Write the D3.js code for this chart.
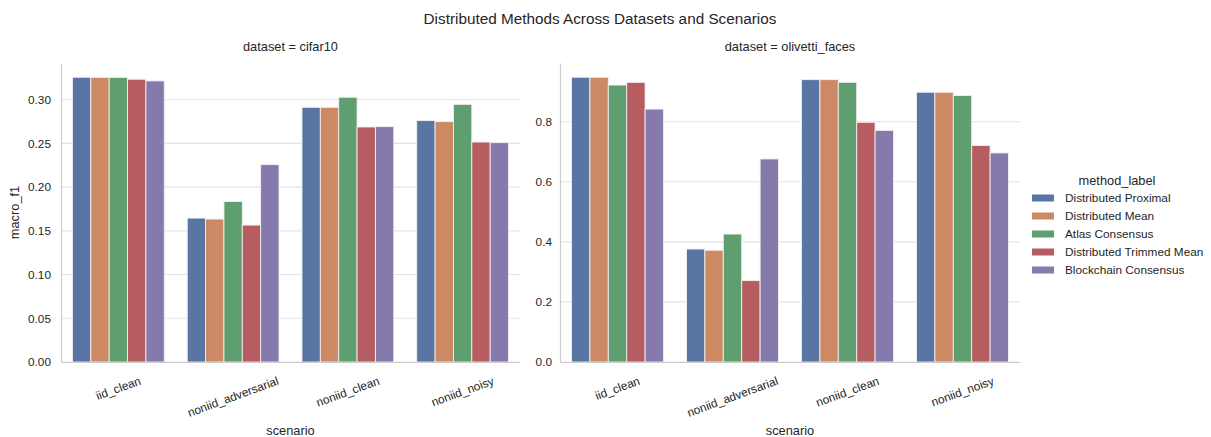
<!DOCTYPE html>
<html>
<head>
<meta charset="utf-8">
<script src="https://cdn.jsdelivr.net/npm/d3@7"></script>
<style>
  html, body { margin: 0; padding: 0; background: #ffffff; }
  svg { display: block; font-family: "Liberation Sans", Arial, sans-serif; }
</style>
</head>
<body>
<svg id="chart" width="1211" height="437"></svg>
<script>
// Scenario categories along the x axis
const scenarios = ["iid_clean", "noniid_adversarial", "noniid_clean", "noniid_noisy"];

// Methods (hue)
const methods = [
  "Distributed Proximal",
  "Distributed Mean",
  "Atlas Consensus",
  "Distributed Trimmed Mean",
  "Blockchain Consensus"
];

// macro_f1 per method, one value per scenario — cifar10
const cifarProximal   = [0.3257, 0.1646, 0.2913, 0.2761];
const cifarMean       = [0.3256, 0.1635, 0.2913, 0.2749];
const cifarAtlas      = [0.3255, 0.1836, 0.3028, 0.2947];
const cifarTrimmed    = [0.3234, 0.1566, 0.2688, 0.2516];
const cifarBlockchain = [0.3215, 0.2257, 0.2692, 0.2509];

// macro_f1 per method, one value per scenario — olivetti_faces
const olivProximal   = [0.948, 0.376, 0.940, 0.898];
const olivMean       = [0.948, 0.372, 0.940, 0.898];
const olivAtlas      = [0.922, 0.426, 0.931, 0.887];
const olivTrimmed    = [0.931, 0.271, 0.798, 0.721];
const olivBlockchain = [0.842, 0.676, 0.771, 0.696];

// y tick values for each facet
const cifarTicks = [0.00, 0.05, 0.10, 0.15, 0.20, 0.25, 0.30];
const olivTicks  = [0.0, 0.2, 0.4, 0.6, 0.8];

// muted "deep" palette
const colors = ["#5875a4", "#cc8963", "#5f9e6e", "#b55d60", "#857aab"];

const facets = [
  { title: "dataset = cifar10", series: [cifarProximal, cifarMean, cifarAtlas, cifarTrimmed, cifarBlockchain],
    ticks: cifarTicks, fmt: d3.format(".2f"), x0: 61, x1: 520, tickPad: 10 },
  { title: "dataset = olivetti_faces", series: [olivProximal, olivMean, olivAtlas, olivTrimmed, olivBlockchain],
    ticks: olivTicks, fmt: d3.format(".1f"), x0: 560, x1: 1020, tickPad: 8 }
];

const plotTop = 63, plotBottom = 362;
const textColor = "#262626";
const svg = d3.select("#chart");

// figure title
svg.append("text")
  .attr("x", 600).attr("y", 24)
  .attr("text-anchor", "middle")
  .attr("font-size", 15.3)
  .attr("fill", textColor)
  .text("Distributed Methods Across Datasets and Scenarios");

facets.forEach((f, fi) => {
  const rows = [];
  scenarios.forEach((s, si) => {
    methods.forEach((m, mi) => rows.push({ scenario: s, method: m, mi, value: f.series[mi][si] }));
  });
  const maxVal = d3.max(rows, d => d.value);

  const x = d3.scaleBand().domain(scenarios).range([f.x0, f.x1]).paddingInner(0).paddingOuter(0);
  const bw = x.bandwidth();
  const xm = d3.scaleBand().domain(methods).range([bw * 0.1, bw * 0.9]);
  const y = d3.scaleLinear().domain([0, maxVal * 1.05]).range([plotBottom, plotTop]);

  const g = svg.append("g");

  // horizontal grid
  g.append("g").selectAll("line").data(f.ticks).join("line")
    .attr("x1", f.x0).attr("x2", f.x1)
    .attr("y1", d => y(d)).attr("y2", d => y(d))
    .attr("stroke", "#e3e3e3").attr("stroke-width", 1.1);

  // bars
  g.append("g").selectAll("rect").data(rows).join("rect")
    .attr("x", d => x(d.scenario) + xm(d.method))
    .attr("width", xm.bandwidth())
    .attr("y", d => y(d.value))
    .attr("height", d => y(0) - y(d.value))
    .attr("fill", d => colors[d.mi])
    .attr("stroke", "#f4eef0").attr("stroke-width", 0.9);

  // y axis
  const yAxis = d3.axisLeft(y).tickValues(f.ticks).tickFormat(f.fmt).tickSize(0).tickPadding(f.tickPad);
  const ya = g.append("g").attr("transform", `translate(${f.x0},0)`).call(yAxis);
  ya.select(".domain").attr("stroke", "#cccccc").attr("stroke-width", 1.2);
  ya.selectAll("text").attr("font-size", 11.8).attr("fill", textColor)
    .attr("font-family", "Liberation Sans, Arial, sans-serif");

  // x axis
  const xAxis = d3.axisBottom(x).tickSize(0).tickFormat("");
  const xa = g.append("g").attr("transform", `translate(0,${plotBottom})`).call(xAxis);
  xa.select(".domain").attr("stroke", "#cccccc").attr("stroke-width", 1.2);

  // rotated scenario labels, bounding box centred under each band
  const labelTop = plotBottom + 12;
  const fs = 11.8;
  const ang = 20 * Math.PI / 180;
  scenarios.forEach(s => {
    const t = g.append("text")
      .attr("font-size", fs).attr("fill", textColor)
      .attr("text-anchor", "middle").attr("dominant-baseline", "central")
      .text(s);
    const L = t.node().getComputedTextLength();
    const h = L * Math.sin(ang) + fs * 1.15 * Math.cos(ang);
    const cx = x(s) + bw / 2, cy = labelTop + h / 2;
    t.attr("transform", `translate(${cx},${cy}) rotate(-20)`);
  });

  // facet title
  g.append("text")
    .attr("x", (f.x0 + f.x1) / 2).attr("y", 51)
    .attr("text-anchor", "middle").attr("font-size", 12.8).attr("fill", textColor)
    .text(f.title);

  // x label
  g.append("text")
    .attr("x", (f.x0 + f.x1) / 2).attr("y", 435)
    .attr("text-anchor", "middle").attr("font-size", 12.8).attr("fill", textColor)
    .text("scenario");

  if (fi === 0) {
    g.append("text")
      .attr("transform", `translate(19,${(plotTop + plotBottom) / 2}) rotate(-90)`)
      .attr("text-anchor", "middle").attr("font-size", 12.8).attr("fill", textColor)
      .text("macro_f1");
  }
});

// legend
const legend = svg.append("g");
legend.append("text")
  .attr("x", 1117).attr("y", 180)
  .attr("text-anchor", "middle").attr("dominant-baseline", "central")
  .attr("font-size", 12.8).attr("fill", textColor)
  .text("method_label");
const items = legend.selectAll("g.item").data(methods).join("g")
  .attr("class", "item")
  .attr("transform", (d, i) => `translate(1032,${198 + i * 18})`);
items.append("rect")
  .attr("x", 0).attr("y", -3.5).attr("width", 22).attr("height", 7)
  .attr("fill", (d, i) => colors[i]);
items.append("text")
  .attr("x", 33).attr("y", 0)
  .attr("dominant-baseline", "central")
  .attr("font-size", 11.8).attr("fill", textColor)
  .text(d => d);
</script>
</body>
</html>
